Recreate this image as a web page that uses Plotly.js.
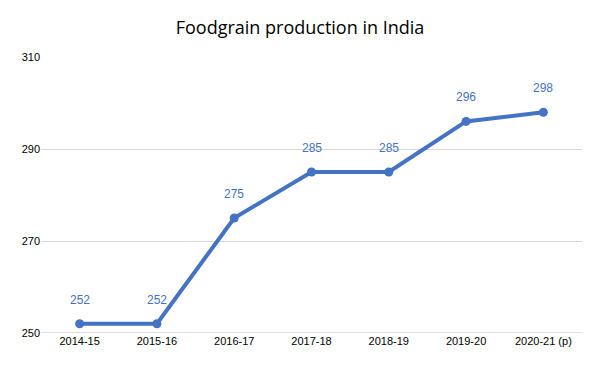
<!DOCTYPE html>
<html>
<head>
<script src="https://cdn.plot.ly/plotly-3.0.1.min.js"></script>
<style>body{margin:0;background:#fff}#chart{width:600px;height:371px}</style>
</head>
<body>
<div id="chart"></div>
<script>
const years = ["2014-15","2015-16","2016-17","2017-18","2018-19","2019-20","2020-21 (p)"];
const production = [252, 252, 275, 285, 285, 296, 298];
const yTicks = [250, 270, 290, 310];

const trace = {
  x: years,
  y: production,
  type: "scatter",
  mode: "lines+markers",
  line: {color: "#4472C4", width: 4},
  marker: {color: "#4472C4", size: 9},
  cliponaxis: false,
  hoverinfo: "skip"
};

const labels = years.map((yr, i) => ({
  x: yr, y: production[i], xref: "x", yref: "y",
  text: String(production[i]), showarrow: false, yshift: 24,
  font: {family: "Liberation Sans, Arial, sans-serif", size: 12, color: "#4472C4"}
}));

const layout = {
  width: 600, height: 371,
  margin: {l: 41, r: 18, t: 57, b: 38},
  paper_bgcolor: "#fff", plot_bgcolor: "#fff",
  showlegend: false,
  title: {text: "Foodgrain production in India", x: 0.5, xanchor: "center", y: 0.925, yanchor: "middle",
          font: {family: "Open Sans, Liberation Sans, sans-serif", size: 18, color: "#000"}},
  xaxis: {type: "category", range: [-0.5, years.length - 0.5], showgrid: false, showline: false, zeroline: false, ticks: "",
          tickfont: {family: "Liberation Sans, Arial, sans-serif", size: 11, color: "#000"}},
  yaxis: {range: [250, 310], tickvals: yTicks, ticktext: yTicks.map(String), showgrid: true,
          gridcolor: "#d9d9d9", gridwidth: 1, zeroline: false, showline: false, ticks: "",
          tickfont: {family: "Liberation Sans, Arial, sans-serif", size: 11, color: "#000"}},
  annotations: labels,
  shapes: [{type: "line", xref: "paper", yref: "y", x0: 0, x1: 1, y0: 250, y1: 250,
            line: {color: "#bfbfbf", width: 1}, layer: "below"}]
};

Plotly.newPlot("chart", [trace], layout, {displayModeBar: false, staticPlot: true});
</script>
</body>
</html>
